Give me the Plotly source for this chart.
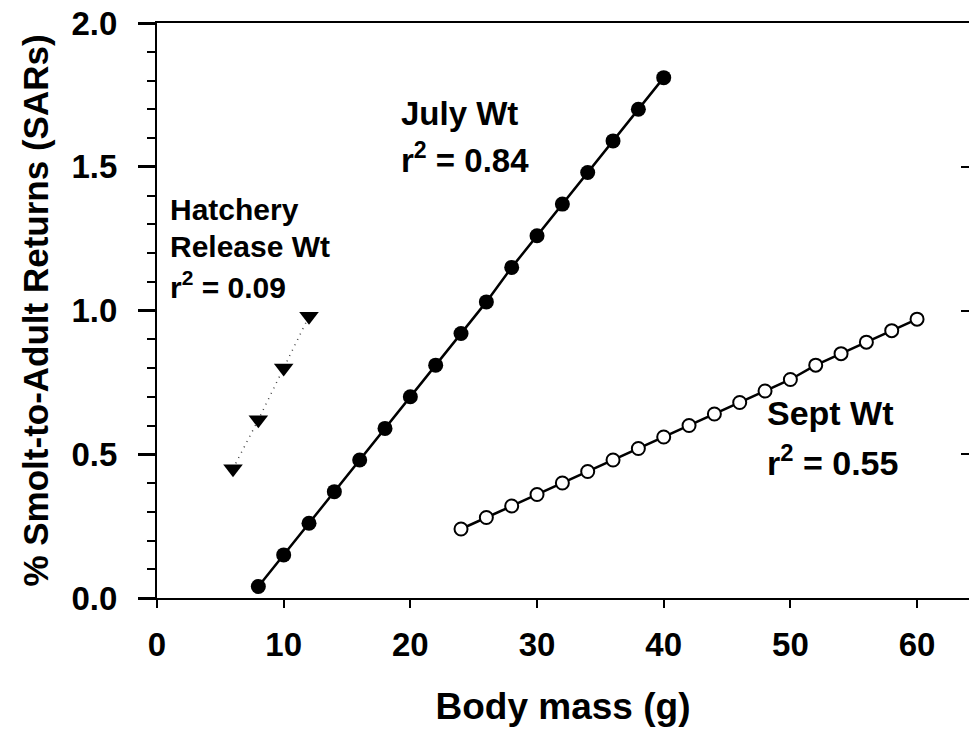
import plotly.graph_objects as go

# Data
july_x = [8, 10, 12, 14, 16, 18, 20, 22, 24, 26, 28, 30, 32, 34, 36, 38, 40]
july_y = [0.04, 0.15, 0.26, 0.37, 0.48, 0.59, 0.70, 0.81, 0.92, 1.03, 1.15, 1.26, 1.37, 1.48, 1.59, 1.70, 1.81]

sept_x = [24, 26, 28, 30, 32, 34, 36, 38, 40, 42, 44, 46, 48, 50, 52, 54, 56, 58, 60]
sept_y = [0.24, 0.28, 0.32, 0.36, 0.40, 0.44, 0.48, 0.52, 0.56, 0.60, 0.64, 0.68, 0.72, 0.76, 0.81, 0.85, 0.89, 0.93, 0.97]

hatch_x = [6, 8, 10, 12]
hatch_y = [0.45, 0.62, 0.80, 0.98]

x_ticks = [0, 10, 20, 30, 40, 50, 60]
y_ticks = [0.0, 0.5, 1.0, 1.5, 2.0]
y_ticklabels = ["0.0", "0.5", "1.0", "1.5", "2.0"]

FONT = "Liberation Sans, Arial, sans-serif"

fig = go.Figure()

fig.add_trace(go.Scatter(
    x=hatch_x, y=hatch_y, mode="lines",
    line=dict(color="#444444", width=1.5, dash="1px,5px"),
    showlegend=False))
fig.add_trace(go.Scatter(
    x=hatch_x, y=hatch_y, mode="markers",
    marker=dict(symbol="triangle-down", size=17, color="black"),
    showlegend=False))

fig.add_trace(go.Scatter(
    x=july_x, y=july_y, mode="lines+markers",
    line=dict(color="black", width=2.5),
    marker=dict(symbol="circle", size=15, color="black"),
    showlegend=False))

fig.add_trace(go.Scatter(
    x=sept_x, y=sept_y, mode="lines+markers",
    line=dict(color="black", width=2.5),
    marker=dict(symbol="circle", size=13, color="white",
                line=dict(color="black", width=2)),
    showlegend=False))

# invisible trace for right axis ticks
fig.add_trace(go.Scatter(x=[0], y=[0], yaxis="y2", mode="markers",
                         marker=dict(opacity=0), showlegend=False, hoverinfo="skip"))

def ann(x, y, text, size):
    fig.add_annotation(x=x, y=y, text="<b>" + text + "</b>", showarrow=False,
                       xanchor="left", yanchor="middle",
                       font=dict(family=FONT, size=size, color="black"))

ann(19.1, 1.684, "July Wt", 33)
ann(19.1, 1.530, "r<sup>2</sup> = 0.84", 33)
ann(0.87, 1.353, "Hatchery", 30)
ann(0.87, 1.224, "Release Wt", 30)
ann(0.87, 1.089, "r<sup>2</sup> = 0.09", 30)
ann(48.0, 0.645, "Sept Wt", 34)
ann(48.0, 0.480, "r<sup>2</sup> = 0.55", 34)

fig.update_layout(
    width=969, height=732,
    margin=dict(l=157, r=0, t=23, b=134),
    paper_bgcolor="white", plot_bgcolor="white",
    font=dict(family=FONT, color="black"),
    xaxis=dict(
        range=[0, 64.1], tickvals=x_ticks, ticktext=[str(v) for v in x_ticks],
        showgrid=False, zeroline=False,
        showline=True, linecolor="black", linewidth=2, mirror=True,
        ticks="outside", ticklen=8, tickwidth=2, tickcolor="black",
        tickfont=dict(family=FONT, size=33, color="black", weight="bold"),
        ticklabelstandoff=8,
        title=dict(text="<b>Body mass (g)</b>", font=dict(family=FONT, size=37, color="black"),
                   standoff=32),
    ),
    yaxis=dict(
        range=[0, 2], tickvals=y_ticks, ticktext=y_ticklabels,
        showgrid=False, zeroline=False,
        showline=True, linecolor="black", linewidth=2,
        ticks="outside", ticklen=17, tickwidth=2.5, tickcolor="black",
        minor=dict(dtick=0.1, ticks="outside", ticklen=8, tickwidth=1.5, tickcolor="black", showgrid=False),
        tickfont=dict(family=FONT, size=33, color="black", weight="bold"),
        ticklabelstandoff=14,
        title=dict(text="<b>% Smolt-to-Adult Returns (SARs)</b>", font=dict(family=FONT, size=35, color="black"),
                   standoff=12),
    ),
    yaxis2=dict(
        range=[0, 2], overlaying="y", side="right", tickvals=y_ticks,
        showticklabels=False, showgrid=False, zeroline=False, showline=False,
        ticks="inside", ticklen=8, tickwidth=2, tickcolor="black",
    ),
)

fig.write_html("out.html")
